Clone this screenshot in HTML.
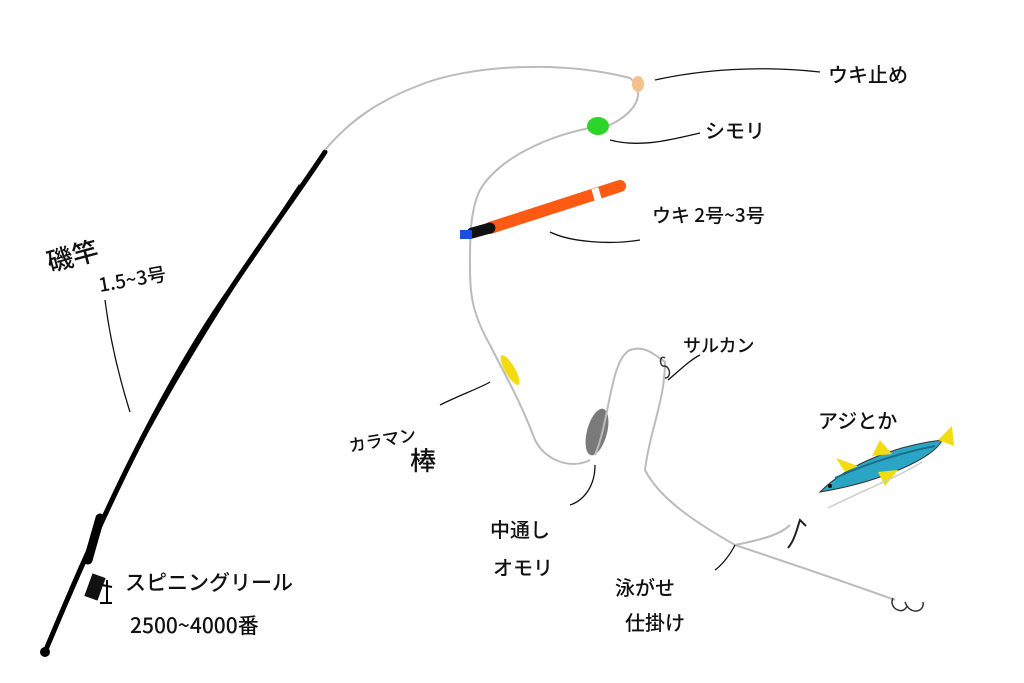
<!DOCTYPE html>
<html><head><meta charset="utf-8"><style>
html,body{margin:0;padding:0;background:#fff;width:1024px;height:683px;overflow:hidden}
text{font-family:"Liberation Sans","Noto Sans CJK JP",sans-serif;fill:#111}
.h{font-family:"Noto Sans CJK JP",sans-serif;font-weight:500}
</style></head><body>
<svg width="1024" height="683" viewBox="0 0 1024 683" xmlns="http://www.w3.org/2000/svg">
<!-- rod -->
<path d="M45 652 C100 520 160 390 230 290 C270 230 300 190 325 152" stroke="#000" stroke-width="5" fill="none" stroke-linecap="round"/>
<path d="M70 590 C130 450 200 335 300 185" stroke="#000" stroke-width="2.5" fill="none"/>
<path d="M88 560 L100 518" stroke="#000" stroke-width="9" stroke-linecap="round"/>
<rect x="88" y="575" width="14" height="24" fill="#111" transform="rotate(20 95 587)"/>
<path d="M102 585 L112 587 M107 580 L107 602 M100 603 L112 603" stroke="#000" stroke-width="2"/>
<circle cx="45" cy="652" r="5" fill="#000"/>
<!-- main line -->
<path d="M325 150 C350 120 380 100 420 85 C470 65 560 60 630 78 C645 90 640 110 610 125 C560 130 500 155 480 190 C470 210 470 240 470 260 C470 290 470 310 490 345 C505 375 520 400 535 440 C545 460 570 470 590 460" stroke="#bbb" stroke-width="2" fill="none"/>
<ellipse cx="638" cy="84" rx="6" ry="8" fill="#f5c08f"/>
<ellipse cx="598" cy="126" rx="11" ry="9" fill="#2cd42c"/>
<!-- float -->
<path d="M490 228 L620 186" stroke="#ff5a14" stroke-width="12" stroke-linecap="round"/>
<path d="M593 195 L600 193" stroke="#fff" stroke-width="12"/>
<path d="M472 233 L490 228" stroke="#111" stroke-width="11" stroke-linecap="round"/>
<rect x="460" y="230" width="12" height="9" fill="#1a4fe0"/>
<!-- yellow bead -->
<ellipse cx="510" cy="370" rx="5" ry="17" fill="#f2dc10" transform="rotate(-30 510 370)"/>
<!-- sinker -->
<ellipse cx="597" cy="432" rx="10" ry="24" fill="#7a7a7a" transform="rotate(15 597 432)"/>
<!-- leader -->
<path d="M595 455 C610 420 610 360 630 350 C645 345 655 355 665 362 C665 400 650 430 645 470 C660 500 700 525 735 545 C780 560 840 580 895 600" stroke="#bbb" stroke-width="2" fill="none"/>
<path d="M735 545 C760 540 780 535 790 525" stroke="#bbb" stroke-width="2" fill="none"/>
<path d="M665 358 c-6 -4 -6 10 0 8 c6 2 6 12 0 12" stroke="#333" stroke-width="1.5" fill="none"/>
<path d="M788 548 C795 540 798 525 800 520 L806 526" stroke="#222" stroke-width="2" fill="none"/>
<path d="M893 598 c-5 10 10 18 14 8 M905 602 c5 14 20 10 18 0" stroke="#333" stroke-width="1.5" fill="none"/>
<!-- fish -->
<g>
<path d="M820 492 C850 462 900 445 942 440 C935 458 880 482 820 492Z" fill="#2aa6c4" stroke="#333" stroke-width="1"/>
<path d="M835 478 C870 462 905 452 935 446" stroke="#1a6e8a" stroke-width="2" fill="none"/>
<path d="M938 440 L952 426 L954 446 Z" fill="#f2dc10"/>
<path d="M845 472 L836 458 L858 466 Z M872 456 L880 440 L892 454 Z M878 472 L885 486 L898 470 Z" fill="#f2dc10"/>
<path d="M828 508 C860 492 900 476 922 462" stroke="#ccc" stroke-width="1.5" fill="none"/>
<circle cx="830" cy="486" r="2" fill="#111"/>
</g>
<!-- pointer lines -->
<path d="M655 80 C700 70 760 65 820 72" stroke="#111" stroke-width="1.3" fill="none"/>
<path d="M610 140 C640 148 670 140 700 133" stroke="#111" stroke-width="1.3" fill="none"/>
<path d="M550 232 C570 242 610 245 640 240" stroke="#111" stroke-width="1.3" fill="none"/>
<path d="M105 300 C110 340 120 380 130 412" stroke="#111" stroke-width="1.3" fill="none"/>
<path d="M440 405 C460 395 480 388 490 382" stroke="#111" stroke-width="1.3" fill="none"/>
<path d="M595 465 C595 485 585 500 570 505" stroke="#111" stroke-width="1.3" fill="none"/>
<path d="M668 380 C680 370 690 360 700 355" stroke="#111" stroke-width="1.3" fill="none"/>
<path d="M735 545 C730 555 722 565 715 570" stroke="#111" stroke-width="1.3" fill="none"/>
<!-- labels -->
<text class="h" x="828" y="82" font-size="20">ウキ止め</text>
<text class="h" x="705" y="138" font-size="20">シモリ</text>
<text class="h" x="652" y="222" font-size="19">ウキ 2号~3号</text>
<text class="h" x="50" y="272" font-size="26" transform="rotate(-15 50 272)">磯竿</text>
<text class="h" x="100" y="292" font-size="19" transform="rotate(-10 100 292)">1.5~3号</text>
<text class="h" x="125" y="590" font-size="21">スピニングリール</text>
<text class="h" x="130" y="633" font-size="21">2500~4000番</text>
<text class="h" x="350" y="452" font-size="17" transform="rotate(-10 350 452)">カラマン</text>
<text class="h" x="410" y="470" font-size="26">棒</text>
<text class="h" x="490" y="537" font-size="20">中通し</text>
<text class="h" x="493" y="575" font-size="20">オモリ</text>
<text class="h" x="683" y="352" font-size="18">サルカン</text>
<text class="h" x="818" y="428" font-size="20">アジとか</text>
<text class="h" x="615" y="595" font-size="20">泳がせ</text>
<text class="h" x="625" y="630" font-size="20">仕掛け</text>
</svg>
</body></html>
